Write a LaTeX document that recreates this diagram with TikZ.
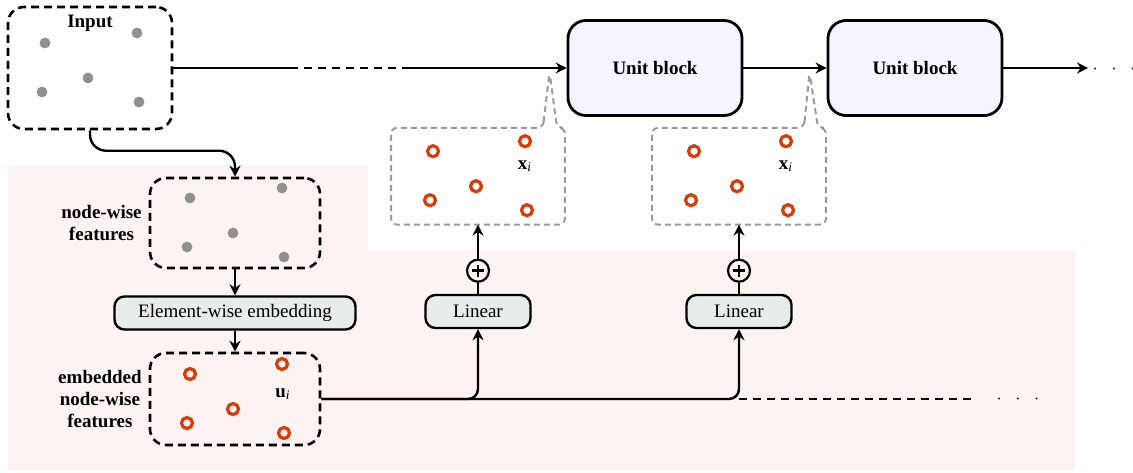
\documentclass[tikz,border=0pt]{standalone}
\usepackage{fontspec}
\setmainfont{Liberation Serif}
\usetikzlibrary{arrows.meta,positioning,calc}
\definecolor{bgpink}{HTML}{FDF3F0}
\definecolor{unitfill}{HTML}{F7F4FF}
\definecolor{opfill}{HTML}{E6EDEA}
\definecolor{dotgray}{HTML}{909090}
\definecolor{ringred}{HTML}{D83A0A}
\definecolor{calloutgray}{HTML}{9A9A9A}
\begin{document}
\begin{tikzpicture}[x=0.5pt,y=-0.5pt,
  font=\fontsize{9.5}{11}\selectfont,
  wire/.style={line width=1.2pt},
  arrow/.style={line width=1.2pt,-{Stealth[length=5.5pt,width=5.5pt]}},
  setbox/.style={draw,line width=1.3pt,dash pattern=on 4pt off 2.5pt,rounded corners=8pt,
    minimum width=85pt,minimum height=46pt},
  unitbox/.style={draw,line width=1.4pt,fill=unitfill,rounded corners=9pt,
    minimum width=87pt,minimum height=47.5pt,font=\fontsize{9.5}{11}\selectfont\bfseries},
  opbox/.style={draw,line width=1.2pt,fill=opfill,rounded corners=5pt,
    minimum height=16.5pt,inner ysep=2pt},
  featdot/.style={fill=dotgray},
  ring/.style={draw=ringred,line width=1.6pt},
  callout/.style={draw=calloutgray,line width=1pt,dash pattern=on 3pt off 2pt,rounded corners=3pt},
  lbl/.style={font=\fontsize{9.5}{11}\selectfont\bfseries,align=center},
  plusnode/.style={draw,circle,line width=1.1pt,minimum size=11pt,inner sep=0pt,
    path picture={\draw[line width=1.3pt]
      ([xshift=-3pt]path picture bounding box.center) -- ([xshift=3pt]path picture bounding box.center)
      ([yshift=-3pt]path picture bounding box.center) -- ([yshift=3pt]path picture bounding box.center);}}
]
\useasboundingbox (0,0) rectangle (1133,472);

% background of the embedding part
\fill[bgpink] (8,165) -- (368,165) -- (368,250) -- (1075,250) -- (1075,470) -- (8,470) -- cycle;

% input and node-wise features
\node [setbox,minimum width=82pt,minimum height=61pt] (input) at (90,68) {};
\node [lbl] at (90,23) {Input};
\node [setbox,minimum height=45pt] (feat) at (235,223) {};
\node [lbl,left=0pt of feat] {node-wise\\features};
\node [opbox,minimum width=120.5pt,below=13pt of feat] (elem) {Element-wise embedding};
\node [setbox,below=10.5pt of elem] (emb) {};
\node [lbl,left=0pt of emb] {embedded\\node-wise\\features};

\foreach \dx/\dy in {-45/-25,47/-35,-48/24,-2/10,49/34} {
  \fill[featdot] ([shift={(\dx,\dy)}]input.center) circle (2.7pt);
  \fill[featdot] ([shift={(\dx,\dy)}]feat.center) circle (2.7pt);
  \draw[ring] ([shift={(\dx,\dy)}]emb.center) circle (2.75pt);
}
\node at ([shift={(48,-5)}]emb.center) {\textbf{u}\textsubscript{\textit{i}}};

% unit blocks
\node [unitbox] (unit1) at (655,68) {Unit block};
\node [unitbox] (unit2) at (915,68) {Unit block};

% linear layers and their outputs
\node [opbox,minimum width=52.5pt] (lin1) at (478,311.5) {Linear};
\node [opbox,minimum width=52.5pt] (lin2) at (739,311.5) {Linear};
\node [plusnode,above=5.5pt of lin1] (plus1) {};
\node [plusnode,above=5.5pt of lin2] (plus2) {};
\node [minimum width=86.5pt,minimum height=48pt,above=17pt of plus1] (xb1) {};
\node [minimum width=86.5pt,minimum height=48pt,above=17pt of plus2] (xb2) {};
\coordinate (tip1) at ([xshift=-8.5pt,yshift=-2pt]unit1.west);
\coordinate (tip2) at ([xshift=-8.5pt,yshift=-2pt]unit2.west);
\foreach \b/\t in {xb1/tip1,xb2/tip2} {
  \draw[callout] ([xshift=-11pt]\b.north east) -- (\t) -- ([xshift=-4pt]\b.north east)
    -- (\b.north east) -- (\b.south east) -- (\b.south west) -- (\b.north west) -- cycle;
  \foreach \dx/\dy in {-45/-25,47/-35,-48/24,-2/10,49/34}
    \draw[ring] ([shift={(\dx,\dy)}]\b.center) circle (2.75pt);
  \node at ([shift={(47,-10)}]\b.center) {\textbf{x}\textsubscript{\textit{i}}};
}

% main flow
\draw[wire] (input.east) -- (290,68) coordinate (gapa);
\draw[wire,dash pattern=on 4pt off 3pt] (gapa) -- (410,68) coordinate (gapb);
\draw[arrow] (gapb) -- (unit1.west);
\draw[arrow] (unit1.east) -- (unit2.west);
\draw[arrow] (unit2.east) -- (1088,68) coordinate (outend);
\node at (1114,69) {$\cdot\enspace\cdot\enspace\cdot$};

\draw[arrow,rounded corners=8pt] (input.south) |- ([yshift=13pt]feat.north) -- (feat.north);
\draw[arrow] (feat.south) -- (elem.north);
\draw[arrow] (elem.south) -- (emb.north);

\draw[arrow,rounded corners=5pt] (emb.east) -| (lin1.south);
\draw[arrow,rounded corners=5pt] (emb.east) -| (lin2.south);
\draw[wire,dash pattern=on 4pt off 3pt] (lin2.south |- emb.east) -- ++(233,0) coordinate (tailend);
\node at ([xshift=23pt]tailend) {$\cdot\enspace\cdot\enspace\cdot$};
\foreach \i in {1,2} {
  \draw[wire] (lin\i.north) -- (plus\i.south);
  \draw[arrow] (plus\i.north) -- (xb\i.south);
}
\end{tikzpicture}
\end{document}
